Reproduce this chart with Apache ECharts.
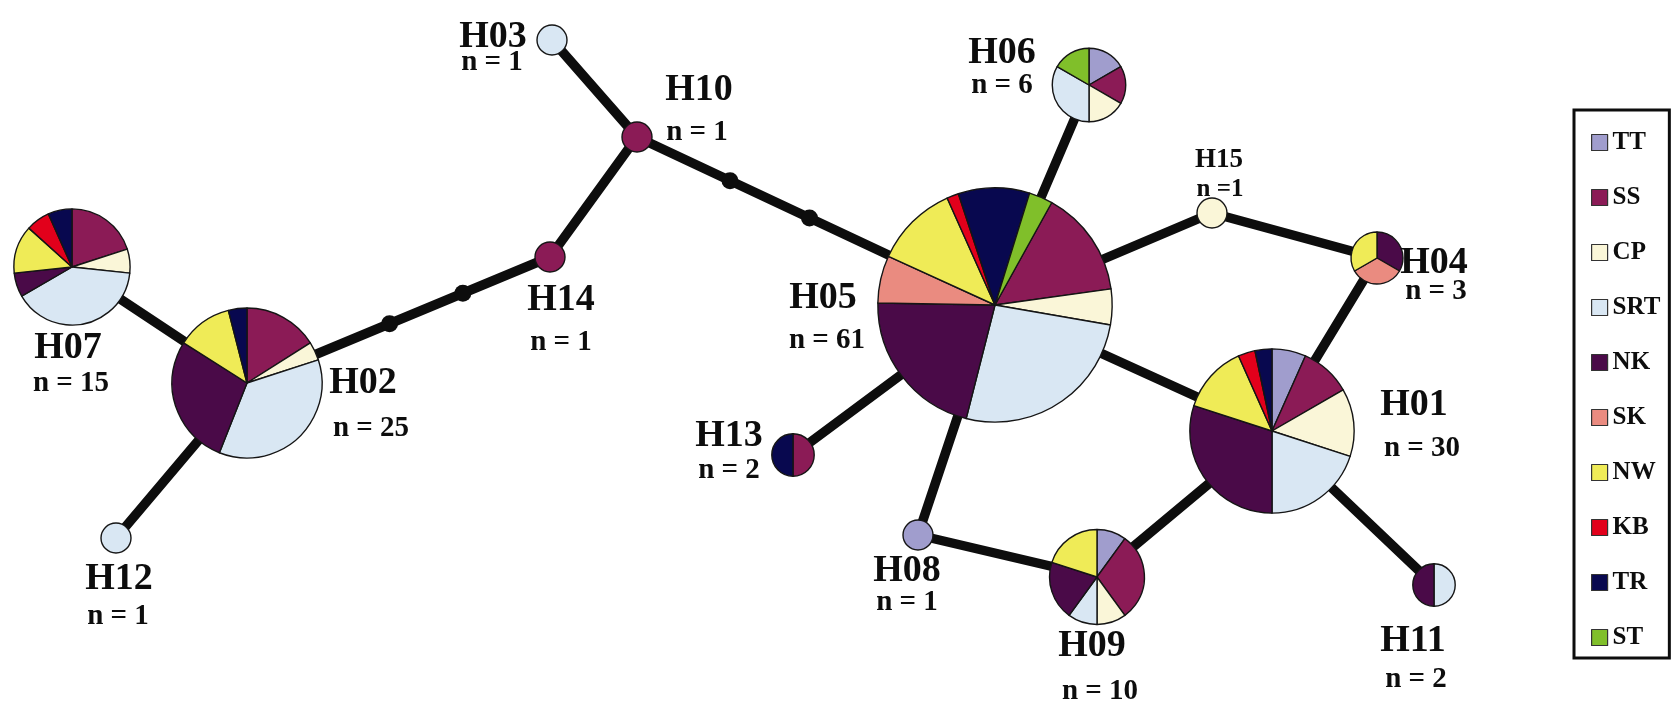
<!DOCTYPE html>
<html>
<head>
<meta charset="utf-8">
<title>Haplotype network</title>
<script src="https://cdn.jsdelivr.net/npm/echarts@6/dist/echarts.min.js"></script>
<style>
  html, body { margin: 0; padding: 0; background: #ffffff; }
  #main { width: 1676px; height: 704px; }
</style>
</head>
<body>
<div id="main"></div>
<script>
// Sampling regions (legend order; also the clockwise slice order in every pie)
const regions = ['TT', 'SS', 'CP', 'SRT', 'NK', 'SK', 'NW', 'KB', 'TR', 'ST'];

// Individuals per region for each haplotype (aligned with `regions`)
const h01 = [2, 3, 4, 6, 9, 0, 4, 1, 1, 0];
const h02 = [0, 4, 1, 9, 7, 0, 3, 0, 1, 0];
const h03 = [0, 0, 0, 1, 0, 0, 0, 0, 0, 0];
const h04 = [0, 0, 0, 0, 1, 1, 1, 0, 0, 0];
const h05 = [0, 9, 3, 16, 13, 4, 7, 1, 6, 2];
const h06 = [1, 1, 1, 2, 0, 0, 0, 0, 0, 1];
const h07 = [0, 3, 1, 6, 1, 0, 2, 1, 1, 0];
const h08 = [1, 0, 0, 0, 0, 0, 0, 0, 0, 0];
const h09 = [1, 3, 1, 1, 2, 0, 2, 0, 0, 0];
const h10 = [0, 1, 0, 0, 0, 0, 0, 0, 0, 0];
const h11 = [0, 0, 0, 1, 1, 0, 0, 0, 0, 0];
const h12 = [0, 0, 0, 1, 0, 0, 0, 0, 0, 0];
const h13 = [0, 1, 0, 0, 0, 0, 0, 0, 1, 0];
const h14 = [0, 1, 0, 0, 0, 0, 0, 0, 0, 0];
const h15 = [0, 0, 1, 0, 0, 0, 0, 0, 0, 0];

const haplotypes = ['H01', 'H02', 'H03', 'H04', 'H05', 'H06', 'H07', 'H08',
                    'H09', 'H10', 'H11', 'H12', 'H13', 'H14', 'H15'];
const counts = [h01, h02, h03, h04, h05, h06, h07, h08, h09, h10, h11, h12, h13, h14, h15];

// Network links: [from, to, unsampled mutational steps in between]
const links = [
  ['H03', 'H10', 0], ['H10', 'H14', 0], ['H10', 'H05', 2], ['H14', 'H02', 2],
  ['H02', 'H07', 0], ['H02', 'H12', 0], ['H05', 'H06', 0], ['H05', 'H15', 0],
  ['H15', 'H04', 0], ['H04', 'H01', 0], ['H05', 'H01', 0], ['H05', 'H13', 0],
  ['H05', 'H08', 0], ['H08', 'H09', 0], ['H09', 'H01', 0], ['H01', 'H11', 0]
];

// ---- drawing layout (node placement, label anchors) ----
const layout = {
  H01: { node: [1272, 431], name: [1414, 405], count: [1422, 449] },
  H02: { node: [247, 383],  name: [363, 383],  count: [371, 429] },
  H03: { node: [552, 40],   name: [493, 37],   count: [492, 63] },
  H04: { node: [1377, 258], name: [1434, 263], count: [1436, 292] },
  H05: { node: [995, 305],  name: [823, 298],  count: [827, 341], startAngle: 61 },
  H06: { node: [1089, 85],  name: [1002, 53],  count: [1002, 86] },
  H07: { node: [72, 267],   name: [68, 348],   count: [71, 384] },
  H08: { node: [918, 535],  name: [907, 571],  count: [907, 603] },
  H09: { node: [1097, 577], name: [1092, 646], count: [1100, 692] },
  H10: { node: [637, 137],  name: [699, 90],   count: [697, 133] },
  H11: { node: [1434, 585], name: [1413, 641], count: [1416, 680] },
  H12: { node: [116, 538],  name: [119, 579],  count: [118, 617] },
  H13: { node: [793, 455],  name: [729, 436],  count: [729, 471] },
  H14: { node: [550, 257],  name: [561, 300],  count: [561, 343] },
  H15: { node: [1212, 213], name: [1219, 160], count: [1220, 190], small: true }
};

const regionColors = {
  TT: '#a09dcd', SS: '#8b1b56', CP: '#faf6d8', SRT: '#d9e7f3', NK: '#4a0a48',
  SK: '#ea8b80', NW: '#efeb57', KB: '#e2001b', TR: '#08084f', ST: '#80bf2a'
};

const FONT = '"Liberation Serif", "Times New Roman", serif';
const INK = '#0d0d0d';

const sum = arr => arr.reduce((a, b) => a + b, 0);
const countOf = h => sum(counts[haplotypes.indexOf(h)]);
const radiusOf = h => 15 * Math.sqrt(countOf(h));

// Median vectors: evenly spaced along the visible part of a link
function stepPoints(a, b, k) {
  const p = layout[a].node, q = layout[b].node;
  const dx = q[0] - p[0], dy = q[1] - p[1];
  const len = Math.hypot(dx, dy);
  const r1 = radiusOf(a), r2 = radiusOf(b);
  const pts = [];
  for (let i = 1; i <= k; i++) {
    const d = r1 + (len - r1 - r2) * i / (k + 1);
    pts.push([p[0] + dx * d / len, p[1] + dy * d / len]);
  }
  return pts;
}

function textSeries(fontSize, smallSize, pick) {
  return {
    type: 'scatter',
    silent: true,
    z: 10,
    symbolSize: 1,
    itemStyle: { color: 'rgba(255,255,255,0)', opacity: 1 },
    label: {
      show: true, position: 'inside', color: INK, opacity: 1,
      textBorderWidth: 0,
      fontFamily: FONT, fontWeight: 'bold', fontSize: fontSize,
      formatter: p => p.data.text
    },
    data: haplotypes.map(h => {
      const [pos, text] = pick(h);
      return {
        value: pos, text: text,
        label: layout[h].small ? { fontSize: smallSize } : undefined
      };
    })
  };
}

const chart = echarts.init(document.getElementById('main'), null, { renderer: 'canvas' });

const baseSeries = [
  {
    type: 'lines',
    coordinateSystem: 'cartesian2d',
    silent: true,
    z: 1,
    lineStyle: { color: INK, width: 9.5, opacity: 1, curveness: 0, cap: 'round' },
    data: links.map(([a, b]) => ({ coords: [layout[a].node, layout[b].node] }))
  },
  {
    type: 'scatter',
    silent: true,
    z: 2,
    symbol: 'circle',
    symbolSize: 17,
    itemStyle: { color: INK, opacity: 1 },
    data: links.flatMap(([a, b, k]) => stepPoints(a, b, k))
  },
  textSeries(38, 27, h => [layout[h].name, h]),
  textSeries(29, 25, h => [layout[h].count,
    (layout[h].small ? 'n =' : 'n = ') + countOf(h)])
];

chart.setOption({
  animation: false,
  backgroundColor: '#ffffff',
  grid: { left: 0, right: 0, top: 0, bottom: 0 },
  xAxis: { type: 'value', min: 0, max: 1676, show: false },
  yAxis: { type: 'value', min: 0, max: 704, inverse: true, show: false },
  legend: {
    data: regions,
    orient: 'vertical',
    left: 1574,
    top: 110,
    icon: 'rect',
    itemWidth: 16,
    itemHeight: 16,
    itemGap: 30,
    padding: [20, 9, 8, 17],
    borderColor: INK,
    borderWidth: 3,
    backgroundColor: '#ffffff',
    selectedMode: false,
    itemStyle: { borderColor: '#333333', borderWidth: 1.2 },
    textStyle: { fontFamily: FONT, fontWeight: 'bold', fontSize: 25, color: INK }
  },
  series: baseSeries
});

// Pies are centred on the node positions, converted through the axes
const pieSeries = haplotypes.map((h, idx) => {
  const center = chart.convertToPixel({ gridIndex: 0 }, layout[h].node);
  return {
    type: 'pie',
    name: h,
    z: 5,
    silent: true,
    center: center,
    radius: radiusOf(h),
    startAngle: layout[h].startAngle !== undefined ? layout[h].startAngle : 90,
    clockwise: true,
    label: { show: false },
    labelLine: { show: false },
    emphasis: { disabled: true },
    itemStyle: { borderColor: '#151515', borderWidth: 1.4 },
    data: regions
      .map((r, i) => ({ name: r, value: counts[idx][i], itemStyle: { color: regionColors[r] } }))
      .filter(d => d.value > 0)
  };
});

chart.setOption({ series: baseSeries.concat(pieSeries) });
</script>
</body>
</html>
